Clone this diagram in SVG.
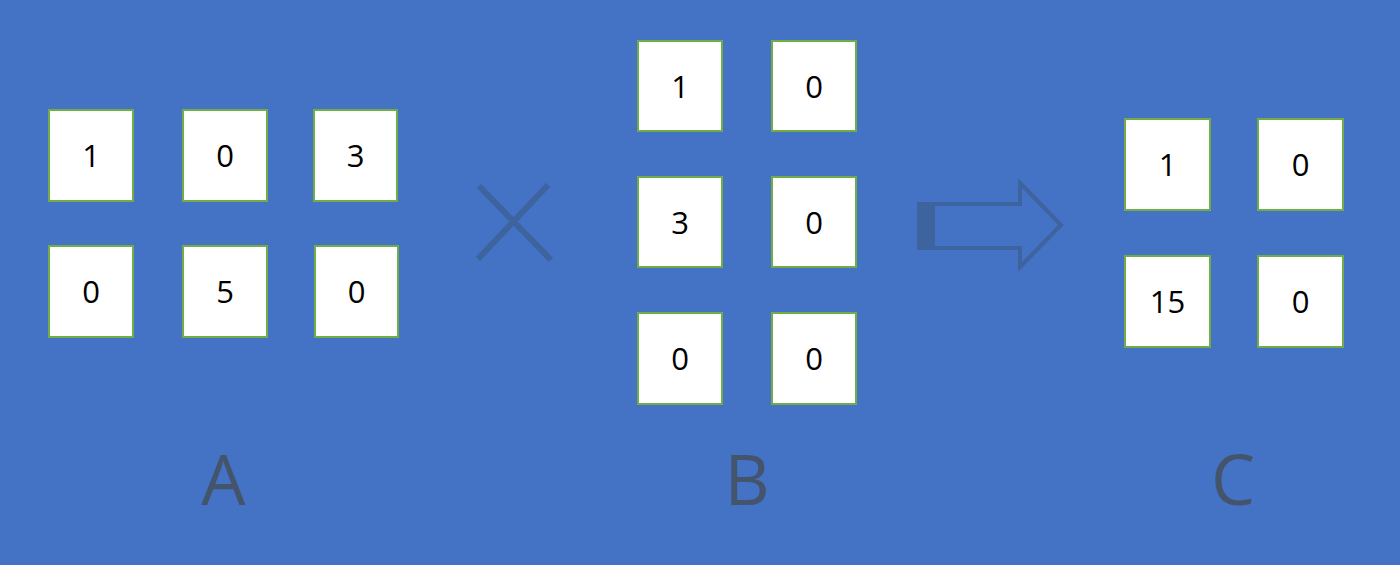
<svg xmlns="http://www.w3.org/2000/svg" width="1400" height="565" viewBox="0 0 1400 565">
<style>
.cell rect{fill:#ffffff;stroke:#70AD47;stroke-width:2}
.cell text{font-family:"Open Sans","Liberation Sans",sans-serif;font-size:31px;fill:#000000;text-anchor:middle}
.lbl{font-family:"Open Sans","Liberation Sans",sans-serif;font-size:70px;fill:#44546A;text-anchor:middle}
.sym{fill:none;stroke:#3D649E}
</style>
<rect x="0" y="0" width="1400" height="565" fill="#4472C4"/>
<g id="matrixA">
<g id="a11" class="cell"><rect x="49" y="110" width="84" height="91"/><text x="91" y="167">1</text></g>
<g id="a12" class="cell"><rect x="183" y="110" width="84" height="91"/><text x="225" y="167">0</text></g>
<g id="a13" class="cell"><rect x="314" y="110" width="83" height="91"/><text x="355.5" y="167">3</text></g>
<g id="a21" class="cell"><rect x="49" y="246" width="84" height="91"/><text x="91" y="303">0</text></g>
<g id="a22" class="cell"><rect x="183" y="246" width="84" height="91"/><text x="225" y="303">5</text></g>
<g id="a23" class="cell"><rect x="315" y="246" width="83" height="91"/><text x="356.5" y="303">0</text></g>
<text id="labelA" class="lbl" x="223.5" y="505">A</text>
</g>
<g id="matrixB">
<g id="b11" class="cell"><rect x="638" y="41" width="84" height="90"/><text x="680" y="98">1</text></g>
<g id="b12" class="cell"><rect x="772" y="41" width="84" height="90"/><text x="814" y="98">0</text></g>
<g id="b21" class="cell"><rect x="638" y="177" width="84" height="90"/><text x="680" y="234">3</text></g>
<g id="b22" class="cell"><rect x="772" y="177" width="84" height="90"/><text x="814" y="234">0</text></g>
<g id="b31" class="cell"><rect x="638" y="313" width="84" height="91"/><text x="680" y="370">0</text></g>
<g id="b32" class="cell"><rect x="772" y="313" width="84" height="91"/><text x="814" y="370">0</text></g>
<text id="labelB" class="lbl" x="747" y="505">B</text>
</g>
<g id="matrixC">
<g id="c11" class="cell"><rect x="1125" y="119" width="85" height="91"/><text x="1167.5" y="176">1</text></g>
<g id="c12" class="cell"><rect x="1258" y="119" width="85" height="91"/><text x="1300.5" y="176">0</text></g>
<g id="c21" class="cell"><rect x="1125" y="256" width="85" height="91"/><text x="1167.5" y="313">15</text></g>
<g id="c22" class="cell"><rect x="1258" y="256" width="85" height="91"/><text x="1300.5" y="313">0</text></g>
<text id="labelC" class="lbl" x="1233" y="505">C</text>
</g>
<g id="connectors">
<g id="times" class="sym" stroke-width="6">
<line x1="479" y1="186" x2="551" y2="260"/>
<line x1="548" y1="185" x2="478" y2="259"/>
</g>
<g id="arrow">
<polygon class="sym" stroke-width="4" points="919,204 1020,204 1020,183 1061,225 1020,267 1020,248 919,248"/>
<rect x="917" y="202" width="18" height="48" fill="#3D649E"/>
</g>
</g>
</svg>
